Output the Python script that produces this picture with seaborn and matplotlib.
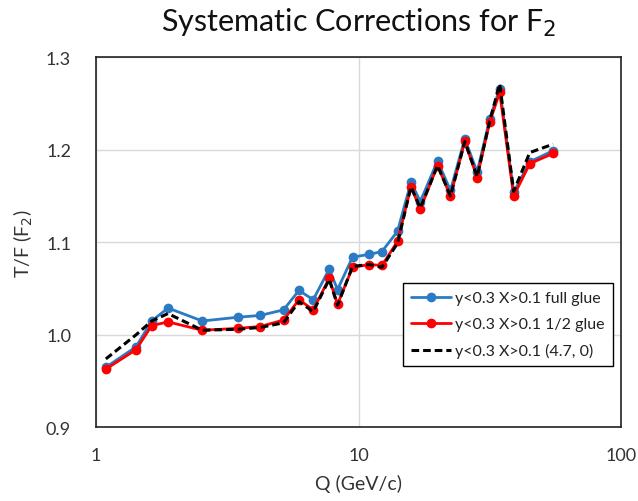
import numpy as np
import pandas as pd
import matplotlib
matplotlib.use("Agg")
import matplotlib.pyplot as plt
import matplotlib.ticker as mticker
import seaborn as sns

# Q values (GeV/c)
q = [1.09, 1.42, 1.63, 1.88, 2.54, 3.46, 4.22, 5.18, 5.93, 6.72, 7.73, 8.32,
     9.49, 10.98, 12.28, 14.08, 15.84, 17.19, 20.0, 22.4, 25.4, 28.3, 31.6,
     34.5, 39.0, 44.9, 55.1]

# T/F ratios
full_glue = [0.965, 0.987, 1.015, 1.029, 1.015, 1.019, 1.021, 1.027, 1.048,
             1.038, 1.071, 1.049, 1.084, 1.087, 1.090, 1.112, 1.165, 1.144,
             1.188, 1.156, 1.212, 1.176, 1.233, 1.266, 1.154, 1.187, 1.199]
half_glue = [0.963, 0.984, 1.010, 1.014, 1.005, 1.007, 1.009, 1.016, 1.038,
             1.027, 1.061, 1.033, 1.073, 1.076, 1.075, 1.101, 1.160, 1.136,
             1.183, 1.150, 1.209, 1.170, 1.230, 1.262, 1.150, 1.185, 1.196]
alt_fit = [0.974, 1.000, 1.015, 1.023, 1.005, 1.006, 1.008, 1.013, 1.036,
           1.025, 1.060, 1.032, 1.074, 1.076, 1.073, 1.099, 1.160, 1.137,
           1.183, 1.150, 1.209, 1.171, 1.231, 1.271, 1.155, 1.197, 1.206]

labels = ["y<0.3 X>0.1 full glue", "y<0.3 X>0.1 1/2 glue", "y<0.3 X>0.1 (4.7, 0)"]

sns.set_theme(style="white")
plt.rcParams["font.family"] = ["Lato", "DejaVu Sans"]

fig = plt.figure(figsize=(6.38, 5.02), dpi=100)
ax = fig.add_axes([0.1505, 0.1466, 0.8229, 0.7374])

blue = "#2A7BC3"
red = "#FF0000"

df = pd.DataFrame({"Q": q, "full": full_glue, "half": half_glue, "alt": alt_fit})

sns.lineplot(data=df, x="Q", y="full", ax=ax, color=blue, lw=2.0, marker="o",
             markersize=7, markeredgewidth=0, sort=False, estimator=None,
             label=labels[0], zorder=3)
sns.lineplot(data=df, x="Q", y="half", ax=ax, color=red, lw=2.0, marker="o",
             markersize=7, markeredgewidth=0, sort=False, estimator=None,
             label=labels[1], zorder=4)
sns.lineplot(data=df, x="Q", y="alt", ax=ax, color="black", lw=2.2,
             sort=False, estimator=None, label=labels[2], zorder=5)
ax.lines[-1].set_dashes([2.5, 1.3])

ax.set_xscale("log")
ax.set_xlim(1, 100)
ax.set_ylim(0.9, 1.3)
ax.xaxis.set_major_locator(mticker.LogLocator(base=10, numticks=5))
ax.xaxis.set_major_formatter(mticker.FuncFormatter(lambda v, p: f"{v:g}"))
ax.xaxis.set_minor_locator(mticker.LogLocator(base=10, subs=np.arange(2, 10), numticks=10))
ax.xaxis.set_minor_formatter(mticker.NullFormatter())
ax.yaxis.set_major_locator(mticker.MultipleLocator(0.1))
ax.yaxis.set_minor_locator(mticker.MultipleLocator(0.02))
ax.yaxis.set_major_formatter(mticker.FormatStrFormatter("%.1f"))

ax.grid(True, which="major", color="#d9d9d9", lw=1.0)
ax.set_axisbelow(True)
for s in ax.spines.values():
    s.set_color("#222222")
    s.set_linewidth(1.2)

ax.tick_params(which="both", direction="in", color="#222222", width=1.0)
ax.tick_params(which="major", length=5, labelsize=13, colors="#222222")
ax.tick_params(which="minor", length=5)
ax.tick_params(axis="y", which="major", pad=18)
ax.tick_params(axis="x", which="major", pad=14)
ax.tick_params(axis="both", labelcolor="#333333")

ax.set_xlabel("Q (GeV/c)", fontsize=14, color="#333333", labelpad=8)
ax.set_ylabel("T/F (F$_2$)", fontsize=14, color="#333333", labelpad=8)
ax.set_title("Systematic Corrections for F$_2$", fontsize=22, color="#111111", pad=19)

leg = ax.legend(loc="lower right", bbox_to_anchor=(0.984, 0.165), fontsize=11.5,
                frameon=True, fancybox=False, edgecolor="black", framealpha=1,
                handlelength=2.5, handletextpad=0.25, borderpad=0.5,
                labelspacing=0.75, borderaxespad=0)
leg.get_frame().set_linewidth(1.0)
for t in leg.get_texts():
    t.set_color("#222222")

fig.savefig("out.png", dpi=100)
